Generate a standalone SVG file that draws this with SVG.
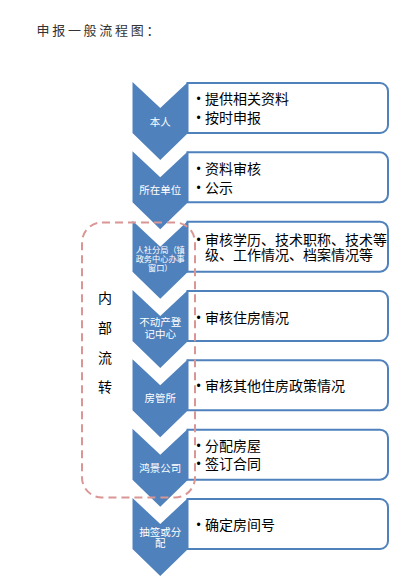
<svg xmlns="http://www.w3.org/2000/svg" width="407" height="587" viewBox="0 0 407 587">
<style>
.chev{fill:#4F81BD;}
.box{fill:#FFFFFF;stroke:#4F81BD;stroke-width:2;}
.cl{font-family:"Noto Sans CJK SC","Noto Sans",sans-serif;font-size:10.5px;fill:#FFFFFF;text-anchor:middle;}
.cs{font-size:8.2px;}
.bt{font-family:"Noto Sans CJK SC","Noto Sans",sans-serif;font-size:14px;fill:#000000;}
.b{font-family:"Liberation Sans",sans-serif;font-size:12px;fill:#000000;text-anchor:middle;}
.side{font-family:"Noto Sans CJK SC",sans-serif;font-size:14px;fill:#000000;text-anchor:middle;}
.title{font-family:"Noto Sans CJK SC",sans-serif;font-size:13px;fill:#333333;letter-spacing:2.7px;}
.dash{fill:none;stroke:#D99694;stroke-width:2;stroke-dasharray:8 5;}
</style>
<defs>
<path id="chevShape" d="M0,0 L27.75,26 L55.5,0 L55.5,51 L27.75,78 L0,51 Z"/>
<path id="boxShape" d="M0,1 H192.5 A8,8 0 0 1 200.5,9 V43 A8,8 0 0 1 192.5,51 H0 Z"/>
</defs>
<text class="title" x="36.5" y="35">申报一般流程图：</text>

<g id="node1">
<use href="#chevShape" class="chev" x="132.5" y="82"/>
<text class="cl" x="160.25" y="125.7">本人</text>
<use href="#boxShape" class="box" x="187.5" y="82"/>
<text class="b" x="198.5" y="102.5">•</text><text class="bt" x="205" y="103.5">提供相关资料</text>
<text class="b" x="198.5" y="122">•</text><text class="bt" x="205" y="123">按时申报</text>
</g>

<g id="node2">
<use href="#chevShape" class="chev" x="132.5" y="151.33"/>
<text class="cl" x="160.25" y="194">所在单位</text>
<use href="#boxShape" class="box" x="187.5" y="151.33"/>
<text class="b" x="198.5" y="172.6">•</text><text class="bt" x="205" y="173.6">资料审核</text>
<text class="b" x="198.5" y="191.6">•</text><text class="bt" x="205" y="192.6">公示</text>
</g>

<g id="node3">
<use href="#chevShape" class="chev" x="132.5" y="220.67"/>
<text class="cl cs" x="160.25" y="253.2"><tspan x="160.25" y="253.2">人社分局（镇</tspan><tspan x="160.25" y="262.2">政务中心办事</tspan><tspan x="160.25" y="271">窗口）</tspan></text>
<use href="#boxShape" class="box" x="187.5" y="220.67"/>
<text class="b" x="198.5" y="243.8">•</text><text class="bt" x="205" y="244.8">审核学历、技术职称、技术等</text>
<text class="bt" x="205" y="260.3">级、工作情况、档案情况等</text>
</g>

<g id="node4">
<use href="#chevShape" class="chev" x="132.5" y="290"/>
<text class="cl" x="160.25" y="326.3"><tspan x="160.25" y="326.3">不动产登</tspan><tspan x="160.25" y="338.3">记中心</tspan></text>
<use href="#boxShape" class="box" x="187.5" y="290"/>
<text class="b" x="198.5" y="321.6">•</text><text class="bt" x="205" y="322.6">审核住房情况</text>
</g>

<g id="node5">
<use href="#chevShape" class="chev" x="132.5" y="359.33"/>
<text class="cl" x="160.25" y="402.3">房管所</text>
<use href="#boxShape" class="box" x="187.5" y="359.33"/>
<text class="b" x="198.5" y="390">•</text><text class="bt" x="205" y="391">审核其他住房政策情况</text>
</g>

<g id="node6">
<use href="#chevShape" class="chev" x="132.5" y="428.67"/>
<text class="cl" x="160.25" y="472">鸿景公司</text>
<use href="#boxShape" class="box" x="187.5" y="428.67"/>
<text class="b" x="198.5" y="450.3">•</text><text class="bt" x="205" y="451.3">分配房屋</text>
<text class="b" x="198.5" y="468.3">•</text><text class="bt" x="205" y="469.3">签订合同</text>
</g>

<g id="node7">
<use href="#chevShape" class="chev" x="132.5" y="498"/>
<text class="cl" x="160.25" y="535.8"><tspan x="160.25" y="535.8">抽签或分</tspan><tspan x="160.25" y="547.3">配</tspan></text>
<use href="#boxShape" class="box" x="187.5" y="498"/>
<text class="b" x="198.5" y="528.6">•</text><text class="bt" x="205" y="529.6">确定房间号</text>
</g>

<g id="internal">
<rect class="dash" x="82" y="222.5" width="113" height="275" rx="20" ry="20"/>
<text class="side" x="105" y="303.3">内</text>
<text class="side" x="105" y="332.8">部</text>
<text class="side" x="105" y="362.8">流</text>
<text class="side" x="105" y="391.8">转</text>
</g>
<g id="connectors"></g>
</svg>
